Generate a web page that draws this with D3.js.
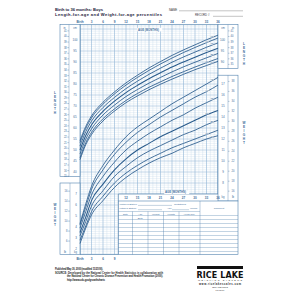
<!DOCTYPE html>
<html>
<head>
<meta charset="utf-8">
<script src="https://cdn.jsdelivr.net/npm/d3@7"></script>
<style>
  html, body { margin: 0; padding: 0; background: #fff; }
  svg { display: block; }
</style>
</head>
<body>
<div id="chart"></div>
<script>
// Ages (months) where the percentile curves are read
const ages = [0, 1.5, 3, 6, 9, 12, 15, 18, 21, 24, 27, 30, 33, 36];
const percentiles = ["5", "10", "25", "50", "75", "90", "95"];

// Length-for-age (cm)
const len5  = [45.6, 52.4, 57.0, 63.2, 67.7, 71.5, 74.6, 77.4, 79.9, 82.2, 84.4, 86.5, 88.4, 90.3];
const len10 = [46.5, 53.3, 58.0, 64.2, 68.7, 72.5, 75.7, 78.5, 81.0, 83.4, 85.6, 87.7, 89.7, 91.6];
const len25 = [48.2, 54.9, 59.6, 65.9, 70.4, 74.3, 77.5, 80.4, 83.0, 85.5, 87.8, 89.9, 91.9, 93.9];
const len50 = [50.0, 56.6, 61.4, 67.6, 72.2, 76.1, 79.4, 82.4, 85.1, 87.7, 90.0, 92.2, 94.3, 96.3];
const len75 = [51.8, 58.3, 63.1, 69.3, 73.9, 77.9, 81.3, 84.4, 87.2, 89.9, 92.3, 94.5, 96.7, 98.7];
const len90 = [53.4, 59.8, 64.6, 70.8, 75.5, 79.5, 83.0, 86.2, 89.1, 91.8, 94.3, 96.6, 98.8, 100.9];
const len95 = [54.3, 60.7, 65.5, 71.7, 76.4, 80.5, 84.0, 87.3, 90.2, 93.0, 95.5, 97.8, 100.1, 102.2];

// Weight-for-age (kg)
const wt5  = [2.5, 3.9, 5.1, 6.4, 7.6, 8.5, 9.2, 9.8, 10.3, 10.7, 11.2, 11.6, 12.0, 12.3];
const wt10 = [2.8, 4.1, 5.4, 6.8, 8.0, 8.9, 9.6, 10.2, 10.7, 11.2, 11.6, 12.0, 12.4, 12.8];
const wt25 = [3.2, 4.5, 5.9, 7.3, 8.6, 9.5, 10.3, 10.9, 11.4, 11.9, 12.4, 12.8, 13.3, 13.7];
const wt50 = [3.5, 4.9, 6.4, 7.9, 9.2, 10.2, 11.0, 11.6, 12.2, 12.7, 13.2, 13.7, 14.2, 14.6];
const wt75 = [3.9, 5.4, 6.9, 8.6, 9.9, 11.0, 11.8, 12.5, 13.1, 13.7, 14.2, 14.8, 15.3, 15.8];
const wt90 = [4.2, 5.8, 7.4, 9.2, 10.6, 11.7, 12.6, 13.3, 14.0, 14.6, 15.2, 15.8, 16.3, 16.9];
const wt95 = [4.3, 6.1, 7.7, 9.6, 11.0, 12.2, 13.1, 13.8, 14.5, 15.2, 15.8, 16.4, 17.0, 17.6];

// Tick labels
const monthTicks = [0, 3, 6, 9, 12, 15, 18, 21, 24, 27, 30, 33, 36];
const leftInches = d3.range(15, 42);
const leftCm = [40, 45, 50, 55, 60, 65, 70, 75, 80, 85, 90, 95, 100];
const rightCm = [90, 95, 100];
const rightInches = [35, 36, 37, 38, 39, 40, 41];
const leftKg = [2, 3, 4, 5, 6, 7];
const leftLb = [6, 8, 10, 12, 14, 16];
const rightKg = [8, 9, 10, 11, 12, 13, 14, 15, 16, 17];
const rightLb = [16, 18, 20, 22, 24, 26, 28, 30, 32, 34, 36, 38];
const tableHeads = ["Date", "Age", "Weight", "Length", "Head Circ."];

const lenSeries = [len5, len10, len25, len50, len75, len90, len95];
const wtSeries = [wt5, wt10, wt25, wt50, wt75, wt90, wt95];

// Colours
const curveCol = "#285a8b";
const labelCol = "#3b6c9a";
const borderCol = "#5282ae";
const gridMinor = "#c9dcec";
const gridMajor = "#8fb4d5";
const font = "'Liberation Sans', Arial, sans-serif";

const svg = d3.select("#chart").append("svg")
  .attr("width", 300).attr("height", 300)
  .style("font-family", font);

// Scales
const x = d3.scaleLinear().domain([0, 36]).range([80, 218]);
const yLen = d3.scaleLinear().domain([45, 100]).range([161, 40]);
const yWt = d3.scaleLinear().domain([10, 17]).range([161, 84]);
const lb2kg = 0.45359;
const in2cm = 2.54;

// Grid outline (step shape: weight part goes lower on the left)
const gTop = yLen(107), gMid = yWt(7), gBot = yWt(1.5), gStep = x(10);
const outline = `M${x(0)},${gTop}H${x(36)}V${gMid}H${gStep}V${gBot}H${x(0)}Z`;

svg.append("defs").append("clipPath").attr("id", "gridclip")
  .append("path").attr("d", outline);

const grid = svg.append("g").attr("clip-path", "url(#gridclip)");

// horizontal lines: 1 cm = 0.2 kg, major each 5 cm / 1 kg
const hSteps = d3.range(7, 113);
grid.selectAll("line.hmin").data(hSteps.filter(i => i % 5 !== 0)).join("line")
  .attr("x1", x(0)).attr("x2", x(36))
  .attr("y1", i => yWt(i * 0.2)).attr("y2", i => yWt(i * 0.2))
  .attr("stroke", gridMinor).attr("stroke-width", 0.35);
const vSteps = d3.range(0, 37);
grid.selectAll("line.vmin").data(vSteps.filter(m => m % 3 !== 0)).join("line")
  .attr("x1", m => x(m)).attr("x2", m => x(m))
  .attr("y1", gTop).attr("y2", gBot)
  .attr("stroke", gridMinor).attr("stroke-width", 0.4);
grid.selectAll("line.hmaj").data(hSteps.filter(i => i % 5 === 0)).join("line")
  .attr("x1", x(0)).attr("x2", x(36))
  .attr("y1", i => yWt(i * 0.2)).attr("y2", i => yWt(i * 0.2))
  .attr("stroke", gridMajor).attr("stroke-width", 0.55);
grid.selectAll("line.vmaj").data(vSteps.filter(m => m % 3 === 0)).join("line")
  .attr("x1", m => x(m)).attr("x2", m => x(m))
  .attr("y1", gTop).attr("y2", gBot)
  .attr("stroke", gridMajor).attr("stroke-width", 0.6);

svg.append("path").attr("d", outline)
  .attr("fill", "none").attr("stroke", borderCol).attr("stroke-width", 0.7);

// Side columns
function column(x0, x1, xs, y0, y1) {
  svg.append("rect").attr("x", x0).attr("y", y0)
    .attr("width", x1 - x0).attr("height", y1 - y0)
    .attr("fill", "#fff").attr("stroke", borderCol).attr("stroke-width", 0.6);
  svg.append("line").attr("x1", xs).attr("x2", xs).attr("y1", y0).attr("y2", y1)
    .attr("stroke", borderCol).attr("stroke-width", 0.4);
}
column(60, 80, 69, gTop, yLen(38));
column(60, 80, 70, yWt(8), gBot);
column(218, 238, 228, gTop, yLen(87));
column(218, 238, 228, yWt(17.8), 201);

function labels(vals, xp, yf, anchor, size) {
  svg.append("g").selectAll("text").data(vals).join("text")
    .attr("x", xp).attr("y", d => yf(d)).attr("dy", "0.35em")
    .attr("text-anchor", anchor).attr("font-size", size)
    .attr("fill", labelCol).text(d => d);
}
function ticks(vals, x1, x2, yf) {
  svg.append("g").selectAll("line").data(vals).join("line")
    .attr("x1", x1).attr("x2", x2).attr("y1", d => yf(d)).attr("y2", d => yf(d))
    .attr("stroke", labelCol).attr("stroke-width", 0.35);
}

// Left length
labels(leftInches, 66.8, d => yLen(d * in2cm), "end", 2.6);
ticks(leftInches, 67.3, 69, d => yLen(d * in2cm));
labels(leftCm, 75, yLen, "middle", 3);
labels(["in"], 64.5, () => gTop + 3, "middle", 2.8);
labels(["cm"], 75, () => gTop + 3, "middle", 2.8);
// Left weight
labels(leftLb, 67.5, d => yWt(d * lb2kg), "end", 2.6);
ticks(leftLb, 67.8, 70, d => yWt(d * lb2kg));
labels(leftKg, 76, yWt, "middle", 3);
labels(["lb"], 65, () => gBot - 2.6, "middle", 2.8);
labels(["kg"], 75.5, () => gBot - 2.6, "middle", 2.8);
// Right length
labels(rightCm, 222.5, yLen, "middle", 3);
labels(rightInches, 232, d => yLen(d * in2cm), "middle", 2.6);
ticks(rightInches, 228, 229.5, d => yLen(d * in2cm));
labels(["cm"], 223, () => gTop + 3, "middle", 2.8);
labels(["in"], 233, () => gTop + 3, "middle", 2.8);
// Right weight
labels(rightKg, 223, yWt, "middle", 3);
labels(rightLb, 233, d => yWt(d * lb2kg), "middle", 2.6);
ticks(rightLb, 228, 229.5, d => yWt(d * lb2kg));
labels(["kg"], 223, () => 197.5, "middle", 2.8);
labels(["lb"], 233, () => 197.5, "middle", 2.8);

// Stacked side words
function stacked(word, xp, y0) {
  svg.append("g").selectAll("text").data(word.split("")).join("text")
    .attr("x", xp).attr("y", (d, i) => y0 + i * 4)
    .attr("text-anchor", "middle").attr("font-size", 3.2).attr("font-weight", "bold")
    .attr("fill", labelCol).text(d => d);
}
stacked("LENGTH", 55, 94);
stacked("WEIGHT", 55, 206);
stacked("LENGTH", 244, 45);
stacked("WEIGHT", 244, 124);

// Age labels
const monthLabel = m => (m === 0 ? "Birth" : m);
svg.append("g").selectAll("text").data(monthTicks).join("text")
  .attr("x", m => x(m)).attr("y", gTop - 1.6)
  .attr("text-anchor", "middle").attr("font-size", 3.1).attr("font-weight", "bold")
  .attr("fill", labelCol).text(monthLabel);
svg.append("g").selectAll("text").data(monthTicks.filter(m => m >= 12)).join("text")
  .attr("x", m => x(m)).attr("y", 199)
  .attr("text-anchor", "middle").attr("font-size", 3.1).attr("font-weight", "bold")
  .attr("fill", labelCol).text(monthLabel);
svg.append("g").selectAll("text").data(monthTicks.filter(m => m <= 9)).join("text")
  .attr("x", m => x(m)).attr("y", 260)
  .attr("text-anchor", "middle").attr("font-size", 3.1).attr("font-weight", "bold")
  .attr("fill", labelCol).text(monthLabel);

function ageTitle(xp, yp) {
  svg.append("rect").attr("x", xp - 0.8).attr("y", yp - 2.7).attr("width", 25).attr("height", 3.6)
    .attr("fill", "#fff");
  svg.append("text").attr("x", xp).attr("y", yp).attr("font-size", 2.8)
    .attr("font-weight", "bold").attr("fill", labelCol).text("AGE (MONTHS)");
}
ageTitle(138, 30.5);
ageTitle(165, 193.3);

// Percentile curves
const lenLine = d3.line().x((d, i) => x(ages[i])).y(d => yLen(d)).curve(d3.curveMonotoneX);
const wtLine = d3.line().x((d, i) => x(ages[i])).y(d => yWt(d)).curve(d3.curveMonotoneX);

function drawSet(series, line, yf) {
  const g = svg.append("g");
  g.selectAll("path").data(series).join("path")
    .attr("d", line).attr("fill", "none")
    .attr("stroke", curveCol).attr("stroke-width", (d, i) => (i === 3 ? 1.05 : 0.85));
  // percentile tags near the end
  g.selectAll("text").data(series).join("text")
    .attr("x", (d, i) => (i % 2 ? 207 : 212))
    .attr("y", (d, i) => {
      const m = (i % 2 ? 207 : 212);
      const age = x.invert(m);
      const v = d[12] + (d[13] - d[12]) * (age - 33) / 3;
      return yf(v) - 0.9;
    })
    .attr("text-anchor", "middle").attr("font-size", 2.5)
    .attr("fill", curveCol)
    .attr("stroke", "#fff").attr("stroke-width", 0.6).attr("paint-order", "stroke")
    .text((d, i) => percentiles[i]);
}
drawSet(lenSeries, lenLine, yLen);
drawSet(wtSeries, wtLine, yWt);

// Header
svg.append("text").attr("x", 55).attr("y", 11).attr("font-size", 4.1).attr("font-weight", "bold")
  .attr("fill", "#1b2238").attr("textLength", 48).text("Birth to 36 months: Boys");
svg.append("text").attr("x", 55).attr("y", 16).attr("font-size", 4.1).attr("font-weight", "bold")
  .attr("fill", "#1b2238").attr("textLength", 107).text("Length-for-age and Weight-for-age percentiles");
svg.append("text").attr("x", 169).attr("y", 10.5).attr("font-size", 2.8).attr("fill", "#333").text("NAME");
svg.append("line").attr("x1", 179).attr("x2", 243).attr("y1", 10.8).attr("y2", 10.8)
  .attr("stroke", "#555").attr("stroke-width", 0.35);
svg.append("text").attr("x", 195).attr("y", 16).attr("font-size", 2.8).attr("fill", "#333").text("RECORD #");
svg.append("line").attr("x1", 213).attr("x2", 243).attr("y1", 16.3).attr("y2", 16.3)
  .attr("stroke", "#555").attr("stroke-width", 0.35);

// Record table
const tX0 = gStep, tX1 = 238, tY0 = 201, tY1 = gBot;
const colEdges = [tX0, 132.5, 148, 163.5, 179, 200];
const tbl = svg.append("g");
tbl.append("rect").attr("x", tX0).attr("y", tY0).attr("width", tX1 - tX0).attr("height", tY1 - tY0)
  .attr("fill", "#fff").attr("stroke", borderCol).attr("stroke-width", 0.6);
const rowLines = d3.range(211.5, tY1 - 1, 4);
tbl.selectAll("line.row").data(rowLines).join("line")
  .attr("x1", tX0).attr("x2", (d, i) => (i === 0 ? 200 : tX1))
  .attr("y1", d => d).attr("y2", d => d)
  .attr("stroke", borderCol).attr("stroke-width", 0.35);
tbl.selectAll("line.col").data(colEdges.slice(1)).join("line")
  .attr("x1", d => d).attr("x2", d => d)
  .attr("y1", d => (d === 200 ? tY0 : 211.5)).attr("y2", tY1)
  .attr("stroke", borderCol).attr("stroke-width", 0.4);
tbl.selectAll("text.head").data(tableHeads).join("text")
  .attr("x", (d, i) => (colEdges[i] + colEdges[i + 1]) / 2).attr("y", 214.6)
  .attr("text-anchor", "middle").attr("font-size", 2.4).attr("fill", labelCol).text(d => d);
const tt = (t, xp, yp, anchor = "start") => tbl.append("text").attr("x", xp).attr("y", yp)
  .attr("text-anchor", anchor).attr("font-size", 2.4).attr("fill", labelCol).text(t);
tt("Mother's Stature", 119.5, 205);
tt("Father's Stature", 119.5, 209.3);
tt("Gestational", 180, 205, "middle");
tt("Age:", 167, 209.3);
tt("Weeks", 190, 209.3);
tt("Comment", 219, 209.3, "middle");
tt("Birth", 140.2, 218.6, "middle");
[[138, 172, 205.4], [138, 162, 209.7], [172, 189, 209.7]].forEach(([a, b, yy]) =>
  tbl.append("line").attr("x1", a).attr("x2", b).attr("y1", yy).attr("y2", yy)
    .attr("stroke", labelCol).attr("stroke-width", 0.3));

// Footnote
const foot = [
  ["Published May 30, 2000 (modified 11/21/00).", 55, 270, 48],
  ["SOURCE: Developed by the National Center for Health Statistics in collaboration with", 55, 273.5, 108],
  ["the National Center for Chronic Disease Prevention and Health Promotion (2000).", 67, 277, 96],
  ["http://www.cdc.gov/growthcharts", 67, 280.5, 38]
];
svg.append("g").selectAll("text").data(foot).join("text")
  .attr("x", d => d[1]).attr("y", d => d[2]).attr("textLength", d => d[3])
  .attr("font-size", 2.6).attr("font-weight", "bold").attr("fill", "#222").text(d => d[0]);

// Rice Lake logo
const logo = svg.append("g");
logo.append("rect").attr("x", 197).attr("y", 266).attr("width", 46).attr("height", 3).attr("fill", "#111");
logo.append("text").attr("x", 220).attr("y", 278.2).attr("text-anchor", "middle")
  .attr("font-size", 8).attr("font-weight", "bold").attr("font-family", "'DejaVu Sans', sans-serif")
  .attr("textLength", 47).attr("fill", "#111").text("RICE LAKE");
logo.append("text").attr("x", 220).attr("y", 281.2).attr("text-anchor", "middle")
  .attr("font-size", 2.3).attr("textLength", 44).attr("fill", "#222").text("WEIGHING SYSTEMS");
logo.append("text").attr("x", 220).attr("y", 284.6).attr("text-anchor", "middle")
  .attr("font-size", 2.6).attr("font-weight", "bold").attr("textLength", 42).attr("fill", "#222")
  .text("www.ricelakescales.com");
logo.append("text").attr("x", 220).attr("y", 287.6).attr("text-anchor", "middle")
  .attr("font-size", 2.5).attr("fill", "#222").text("800-472-6703");
logo.append("text").attr("x", 220).attr("y", 290.5).attr("text-anchor", "middle")
  .attr("font-size", 2).attr("fill", "#333").text("PN 68484");
</script>
</body>
</html>
